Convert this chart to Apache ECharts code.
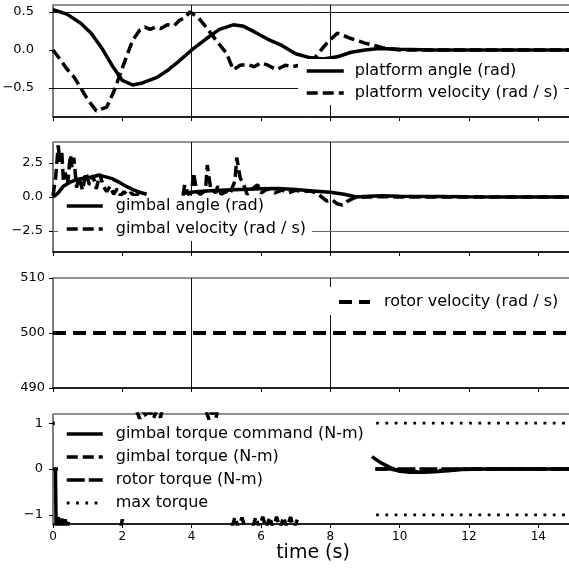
<!DOCTYPE html>
<html>
<head>
<meta charset="utf-8">
<script src="https://cdn.jsdelivr.net/npm/echarts@6/dist/echarts.min.js"></script>
<style>
html,body{margin:0;padding:0;background:#fff;}
#c{width:569px;height:571px;}
</style>
</head>
<body>
<div id="c"></div>
<script>
// ---- Panel 1: platform ----
const platAngleT = [0,0.4,0.8,1.1,1.4,1.7,2.0,2.3,2.6,3.0,3.3,3.6,4.0,4.4,4.8,5.2,5.5,5.8,6.2,6.6,7.0,7.4,7.8,8.2,8.6,9.0,9.4,10,11,12,13,14,15];
const platAngle  = [0.53,0.47,0.35,0.22,0.03,-0.2,-0.4,-0.46,-0.43,-0.36,-0.27,-0.16,0.0,0.14,0.27,0.33,0.31,0.24,0.14,0.06,-0.05,-0.1,-0.12,-0.09,-0.03,0.0,0.02,0.01,0,0,0,0,0];
const platVelT = [0,0.2,0.4,0.6,0.8,1.0,1.25,1.55,1.75,1.95,2.15,2.3,2.5,2.65,2.8,2.95,3.1,3.3,3.5,3.65,3.8,3.95,4.2,4.45,4.7,5.0,5.2,5.4,5.6,5.8,6.0,6.2,6.45,6.7,6.9,7.1,7.5,7.9,8.2,8.6,9.0,9.5,10,11,12,13,14,15];
const platVel  = [0.0,-0.12,-0.25,-0.35,-0.5,-0.65,-0.8,-0.75,-0.55,-0.3,-0.05,0.13,0.26,0.3,0.27,0.3,0.28,0.33,0.32,0.39,0.42,0.5,0.42,0.28,0.13,-0.04,-0.26,-0.2,-0.19,-0.22,-0.17,-0.2,-0.26,-0.2,-0.22,-0.2,-0.13,0.09,0.22,0.15,0.09,0.03,0.0,0,0,0,0,0];

// ---- Panel 2: gimbal ----
const gAngT = [0,0.15,0.3,0.5,0.7,0.9,1.1,1.3,1.5,1.7,1.9,2.1,2.3,2.5,2.7,3.2,3.8,4.2,4.8,5.4,6.0,6.5,7.0,7.5,8.0,8.4,8.75,9.1,9.5,10,11,12,13,14,15];
const gAng  = [0,0.3,0.8,1.1,1.3,1.4,1.45,1.6,1.5,1.35,1.1,0.8,0.55,0.35,0.2,null,0.3,0.4,0.5,0.55,0.6,0.62,0.55,0.45,0.35,0.2,0.0,0.05,0.1,0.05,0.03,0.01,0,0,0];
const gVelT = [0,0.08,0.15,0.2,0.25,0.3,0.35,0.42,0.5,0.55,0.6,0.68,0.75,0.85,0.95,1.05,1.15,1.25,1.35,1.45,1.55,1.65,1.75,1.85,1.95,2.05,2.15,2.25,2.35,2.45,2.55,3.2,
  3.75,3.8,3.9,4.0,4.05,4.15,4.25,4.4,4.45,4.55,4.7,4.75,4.85,5.0,5.1,5.25,5.3,5.4,5.5,5.6,5.75,5.9,6.0,6.2,6.4,6.6,6.8,7.0,7.2,7.4,7.6,7.75,7.9,8.05,8.2,8.35,8.5,8.7,9.0,9.5,10,11,12,13,14,15];
const gVel  = [0.1,1.5,3.8,2.6,3.4,1.2,1.8,0.9,3.1,2.2,2.9,0.7,1.5,0.5,1.8,0.9,1.6,0.6,1.7,0.8,0.4,0.8,0.2,0.6,0.1,0.4,0.1,0.3,0.1,0.2,0.1,null,
  0.1,0.9,0.2,0.3,1.8,0.4,0.2,0.5,2.35,0.6,0.3,0.8,0.2,0.4,0.2,1.2,2.9,1.4,0.9,0.2,0.6,0.9,0.3,0.6,0.3,0.5,0.3,0.5,0.4,0.45,0.3,0.0,-0.3,-0.2,-0.5,-0.6,-0.3,-0.05,0.0,0.02,0,0,0,0,0,0];

// ---- Panel 3: rotor ----
const rotorT = [0,15];
const rotorVel = [500,500];

// ---- Panel 4: torques ----
const cmdT = [0,0.07,0.09,0.15,0.2,0.25,0.3,0.35,0.4,0.45,5,9.2,9.45,9.7,10.0,10.3,10.7,11.0,11.4,11.8,12.5,13,14,15];
const cmd  = [0,0,-1.3,-1.05,-1.3,-1.08,-1.3,-1.1,-1.3,-1.15,null,0.27,0.14,0.04,-0.05,-0.07,-0.07,-0.06,-0.04,-0.01,0,0,0,0];
const gTqT = [0,0.05,0.06,0.06,0.22,1.0,1.95,2.0,2.05,2.2,2.4,2.5,2.6,2.7,2.8,2.9,3.0,3.1,3.15,3.5,4.4,4.5,4.6,4.7,4.75,5.0,
  5.15,5.25,5.35,5.45,5.55,5.65,5.75,5.85,5.95,6.05,6.15,6.25,6.35,6.45,6.55,6.65,6.75,6.85,6.95,7.05,8.0,9.3,9.7,10.0,10.5,11.0,11.8,15];
const gTq  = [1.0,1.0,null,0,0,null,-1.3,-1.1,-1.3,null,1.3,1.1,1.3,1.12,1.3,1.1,1.3,1.12,1.3,null,1.3,1.08,1.3,1.1,1.3,null,
  -1.3,-1.05,-1.3,-1.06,-1.3,null,-1.3,-1.05,-1.3,-1.04,-1.3,-1.05,-1.3,-1.04,-1.3,-1.05,-1.3,-1.05,-1.3,-1.1,null,0,0,-0.04,-0.06,-0.04,0,0];
const rotorTqT = [9.3,15];
const rotorTq  = [0,0];
const maxTqT = [9.32,15];
const maxTqHi = [1,1];
const maxTqLo = [-1,-1];

const xTicks = [0,2,4,6,8,10,12,14];

function pts(ts, vs){ return ts.map((t,i)=>[t, vs[i]===null ? '-' : vs[i]]); }

const FONT = 'DejaVu Sans';
const grids = [
  {left:53, right:-4, top:5, height:112},
  {left:53, right:-4, top:142, height:110},
  {left:53, right:-4, top:278, height:110},
  {left:53, right:-4, top:414, height:110}
].map(g=>Object.assign(g,{show:true, borderColor:'#222', borderWidth:1, backgroundColor:'transparent', outerBoundsMode:'none', containLabel:false}));

const XMAX = 15.0;
function xAx(i){
  return {
    type:'value', gridIndex:i, min:0, max:XMAX,
    axisLine:{show:true, onZero:false, lineStyle:{color:'#000', width:1.5}},
    axisTick:{show:true, inside:false, length:4, customValues:xTicks, lineStyle:{color:'#000'}},
    axisLabel:{show:i===3, customValues:xTicks, color:'#000', fontFamily:FONT, fontSize:12, margin:7},
    splitLine:{show:false},
    name: i===3 ? 'time (s)' : '',
    nameLocation:'middle', nameGap:16,
    nameTextStyle:{color:'#000', fontFamily:FONT, fontSize:19}
  };
}
function fmt1(v){ return v<0 ? '\u2212'+Math.abs(v).toFixed(1) : v.toFixed(1); }
function fmt0(v){ return v<0 ? '\u2212'+Math.abs(v) : String(v); }
function yAx(i, min, max, vals, f, margin){
  return {
    type:'value', gridIndex:i, min:min, max:max,
    axisLine:{show:true, onZero:false, lineStyle:{color:'#777', width:1.5}},
    axisTick:{show:true, inside:false, length:4, customValues:vals, lineStyle:{color:'#000'}},
    axisLabel:{show:true, customValues:vals, formatter:f, color:'#000', fontFamily:FONT, fontSize:13, margin:margin},
    splitLine:{show:false}
  };
}

function line(name, xi, data, width, type, ml){
  const s = {
    name:name, type:'line', xAxisIndex:xi, yAxisIndex:xi, data:data,
    symbol:'none', showSymbol:false, connectNulls:false, clip:true,
    lineStyle:{color:'#000', width:width, type:type, cap:'butt'},
    itemStyle:{color:'#000'},
    animation:false, z:3
  };
  if(ml){
    s.markLine = {silent:true, symbol:'none', animation:false, label:{show:false},
      lineStyle:{color:'#111', width:1, type:'solid'}, data:ml};
  }
  return s;
}

const DASH = [11,5];
const series = [
  line('platform angle (rad)', 0, pts(platAngleT, platAngle), 3.5, 'solid',
    [{xAxis:4},{xAxis:8},{yAxis:0.5},{yAxis:-0.5}]),
  line('platform velocity (rad / s)', 0, pts(platVelT, platVel), 3.5, DASH),
  line('gimbal angle (rad)', 1, pts(gAngT, gAng), 3.5, 'solid',
    [{xAxis:4},{xAxis:8},{yAxis:-2.5, lineStyle:{color:'#666', width:1}}]),
  line('gimbal velocity (rad / s)', 1, pts(gVelT, gVel), 3.5, DASH),
  line('rotor velocity (rad / s)', 2, pts(rotorT, rotorVel), 4, [13,7],
    [{xAxis:4},{xAxis:8}]),
  line('gimbal torque command (N-m)', 3, pts(cmdT, cmd), 3.5, 'solid'),
  line('gimbal torque (N-m)', 3, pts(gTqT, gTq), 3.5, [11,5]),
  line('rotor torque (N-m)', 3, pts(rotorTqT, rotorTq), 3.5, [18,4]),
  line('max torque', 3, pts(maxTqT, maxTqHi), 2.8, [2.8,6.5]),
  line('max torque', 3, pts(maxTqT, maxTqLo), 2.8, [2.8,6.5])
];

function legend(names, left, top, padding, gap, textPad){
  return {
    data:names, orient:'vertical', left:left, top:top, padding:padding,
    itemWidth: 36, itemHeight:14, itemGap:gap, selectedMode:false,
    backgroundColor:'#fff', borderWidth:0,
    lineStyle:{width:'inherit'},
    itemStyle:{opacity:0},
    textStyle:{color:'#000', fontFamily:FONT, fontSize:16, padding:[0,0,0,textPad]},
    z:10
  };
}

const option = {
  animation:false,
  backgroundColor:'#fff',
  grid: grids,
  xAxis: [xAx(0), xAx(1), xAx(2), xAx(3)],
  yAxis: [
    yAx(0, -0.88, 0.59, [-0.5,0,0.5], fmt1, 19),
    yAx(1, -4.05, 4.05, [-2.5,0,2.5], fmt1, 10),
    yAx(2, 490, 510, [490,500,510], fmt0, 8),
    yAx(3, -1.2, 1.2, [-1,0,1], fmt0, 10)
  ],
  legend: [
    Object.assign(legend(['platform angle (rad)','platform velocity (rad / s)'], 298, 59, [4,6,4,7], 6, 6), {itemWidth:37}),
    legend(['gimbal angle (rad)','gimbal velocity (rad / s)'], 58, 196, [2,6,4,7], 7, 8),
    Object.assign(legend(['rotor velocity (rad / s)'], 325, 287, [7,6,5,12], 8, 9), {itemWidth:31}),
    legend(['gimbal torque command (N-m)','gimbal torque (N-m)','rotor torque (N-m)','max torque'], 58, 422, [4,6,4,7], 7, 8)
  ],
  series: series
};

const chart = echarts.init(document.getElementById('c'), null, {renderer:'canvas'});
chart.setOption(option);
</script>
</body>
</html>
